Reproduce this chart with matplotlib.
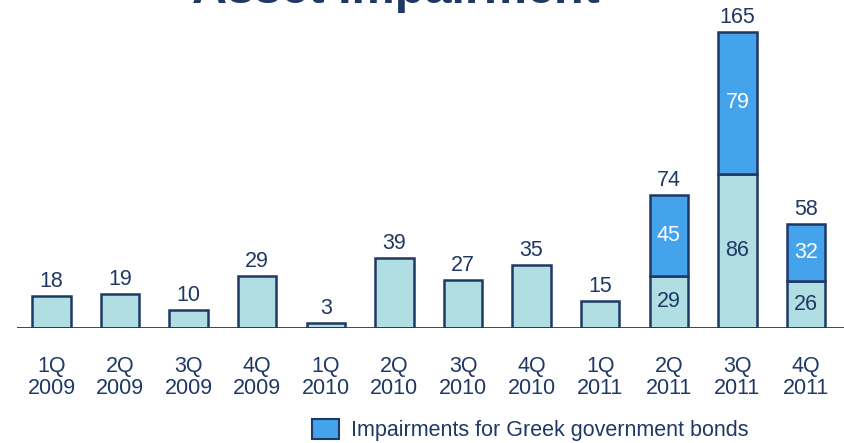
import matplotlib.pyplot as plt
from matplotlib.patches import Patch

quarters = ['1Q\n2009', '2Q\n2009', '3Q\n2009', '4Q\n2009',
            '1Q\n2010', '2Q\n2010', '3Q\n2010', '4Q\n2010',
            '1Q\n2011', '2Q\n2011', '3Q\n2011', '4Q\n2011']
other = [18, 19, 10, 29, 3, 39, 27, 35, 15, 29, 86, 26]
greek = [0, 0, 0, 0, 0, 0, 0, 0, 0, 45, 79, 32]
totals = [18, 19, 10, 29, 3, 39, 27, 35, 15, 74, 165, 58]

navy = '#1F3864'
light = '#B0DEE3'
blue = '#45A3EB'

plt.rcParams['font.family'] = ['Liberation Sans', 'DejaVu Sans']

fig = plt.figure(figsize=(8.45, 4.43), dpi=100)
ax = fig.add_axes([17 / 845, 115 / 443, 828 / 845, 328 / 443])

x = list(range(len(quarters)))
w = 0.56
ax.bar(x, other, width=w, color=light, edgecolor=navy, linewidth=1.8, zorder=2)
gx = [i for i in x if greek[i] > 0]
ax.bar(gx, [greek[i] for i in gx], bottom=[other[i] for i in gx], width=w,
       color=blue, edgecolor=navy, linewidth=1.8, zorder=2)

fs = 15.5
for i in x:
    ax.text(i, totals[i] + 2.2, str(totals[i]), ha='center', va='bottom',
            fontsize=fs, color=navy)
    if greek[i] > 0:
        ax.text(i, other[i] / 2, str(other[i]), ha='center', va='center',
                fontsize=fs, color=navy)
        ax.text(i, other[i] + greek[i] / 2, str(greek[i]), ha='center',
                va='center', fontsize=fs, color='white')

ax.set_xlim(-0.503, 11.57)
ax.set_ylim(0, 182.8)
ax.axhline(0, color=navy, linewidth=2, zorder=3)
ax.set_xticks(x)
ax.set_xticklabels(quarters, fontsize=fs, color=navy, linespacing=1.1)
ax.tick_params(axis='x', length=0, pad=20)
ax.set_yticks([])
for s in ax.spines.values():
    s.set_visible(False)
ax.patch.set_alpha(0)

fig.text(0.468, 440 / 443, 'Asset Impairment', ha='center', va='baseline',
         fontsize=35, fontweight='bold', color=navy)

fig.legend(handles=[Patch(facecolor=blue, edgecolor=navy, linewidth=1.5,
                          label='Impairments for Greek government bonds')],
           loc='center left', bbox_to_anchor=(293 / 845, 13 / 443),
           frameon=False, fontsize=fs, handlelength=1.25, handleheight=1.05,
           handletextpad=0.55, labelcolor=navy)

fig.savefig('out.png', dpi=100)
